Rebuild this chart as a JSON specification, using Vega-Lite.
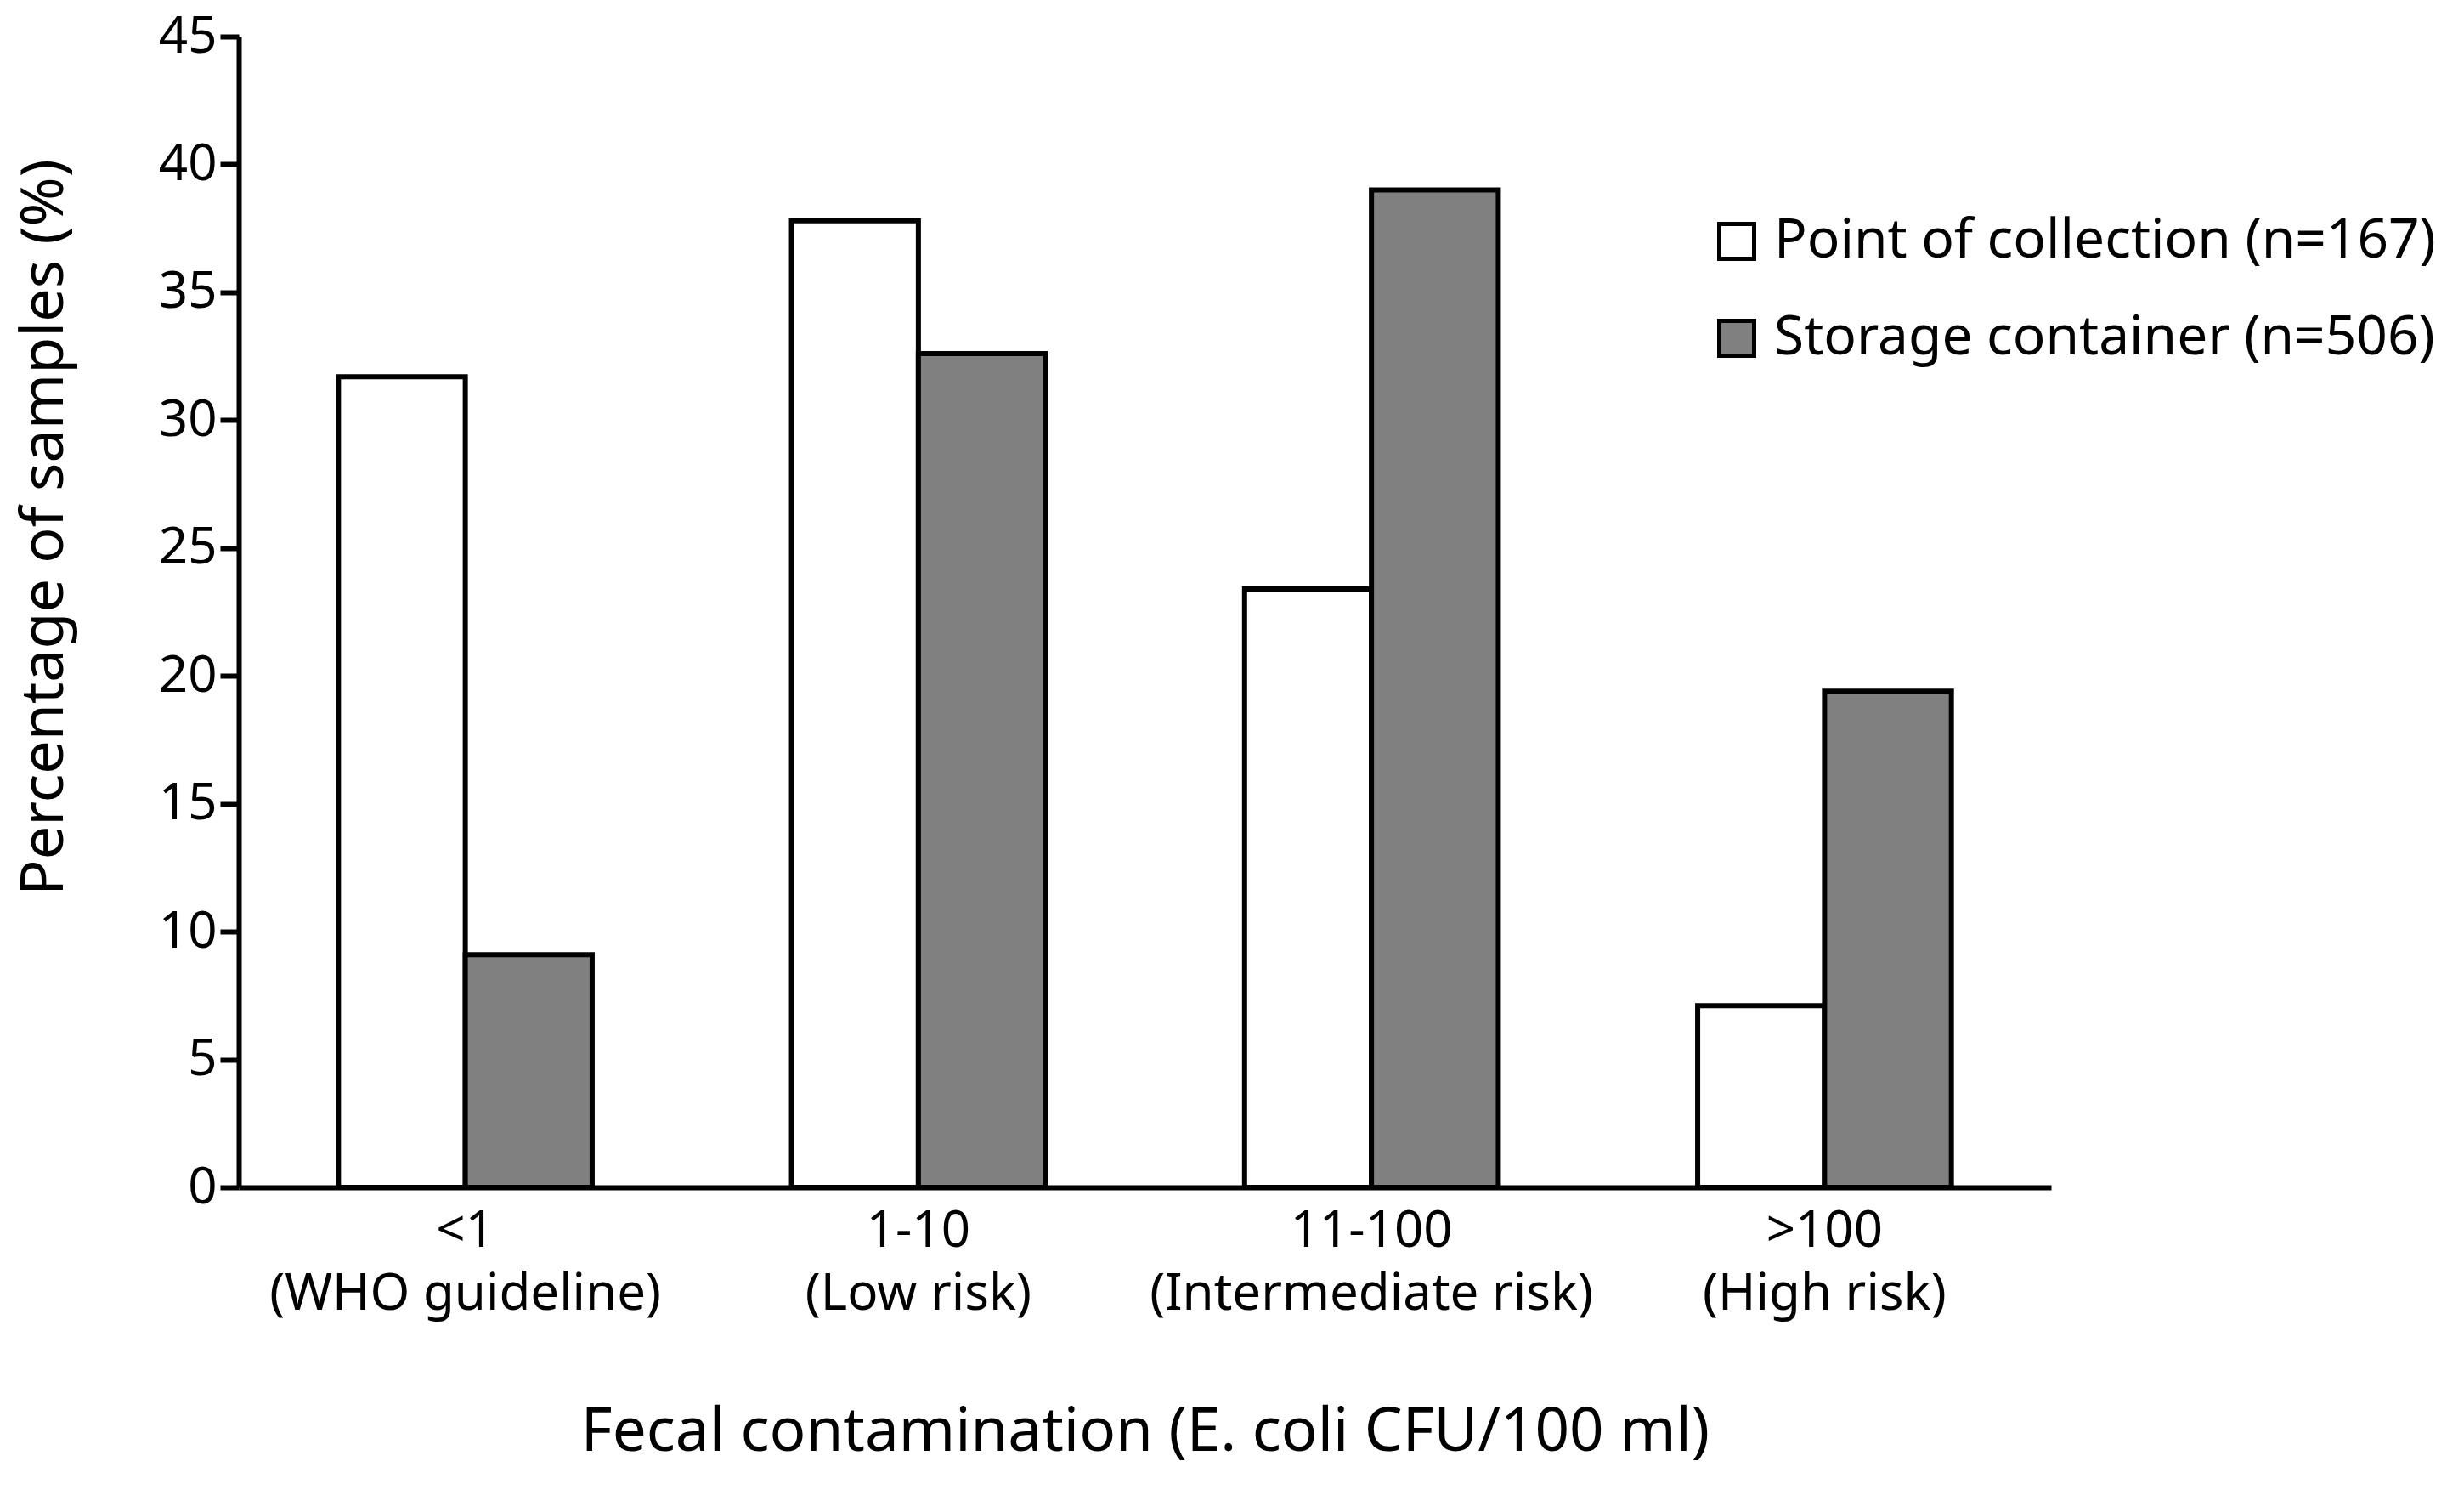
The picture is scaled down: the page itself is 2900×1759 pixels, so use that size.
{
  "$schema": "https://vega.github.io/schema/vega-lite/v6.json",
  "width": 2133,
  "height": 1354,
  "autosize": {"type": "none"},
  "padding": {"left": 281, "top": 43, "right": 486, "bottom": 362},
  "background": "white",
  "config": {"view": {"stroke": null}, "font": "Noto Sans"},
  "data": {
    "values": [
      {"category": "<1|(WHO guideline)", "series": "Point of collection (n=167)", "value": 31.7},
      {"category": "<1|(WHO guideline)", "series": "Storage container (n=506)", "value": 9.1},
      {"category": "1-10|(Low risk)", "series": "Point of collection (n=167)", "value": 37.8},
      {"category": "1-10|(Low risk)", "series": "Storage container (n=506)", "value": 32.6},
      {"category": "11-100|(Intermediate risk)", "series": "Point of collection (n=167)", "value": 23.4},
      {"category": "11-100|(Intermediate risk)", "series": "Storage container (n=506)", "value": 39.0},
      {"category": ">100|(High risk)", "series": "Point of collection (n=167)", "value": 7.1},
      {"category": ">100|(High risk)", "series": "Storage container (n=506)", "value": 19.4}
    ]
  },
  "mark": {"type": "bar", "stroke": "black", "strokeWidth": 6},
  "encoding": {
    "x": {
      "field": "category",
      "type": "nominal",
      "sort": ["<1|(WHO guideline)", "1-10|(Low risk)", "11-100|(Intermediate risk)", ">100|(High risk)"],
      "scale": {"paddingInner": 0.44, "paddingOuter": 0.22},
      "axis": {
        "title": "Fecal contamination (E. coli CFU/100 ml)",
        "titleFontSize": 71,
        "titleFontWeight": "normal",
        "titleColor": "black",
        "titlePadding": 98,
        "labelExpr": "split(datum.label, '|')",
        "labelAngle": 0,
        "labelFontSize": 60,
        "labelLineHeight": 74,
        "labelColor": "black",
        "labelPadding": 22,
        "labelLimit": 0,
        "labelOverlap": false,
        "ticks": false,
        "tickSize": 0,
        "domainColor": "black",
        "domainWidth": 6,
        "grid": false
      }
    },
    "xOffset": {"field": "series", "sort": ["Point of collection (n=167)", "Storage container (n=506)"]},
    "y": {
      "field": "value",
      "type": "quantitative",
      "scale": {"domain": [0, 45]},
      "axis": {
        "title": "Percentage of samples (%)",
        "titleFontSize": 70,
        "titleFontWeight": "normal",
        "titleColor": "black",
        "titleAngle": 270,
        "titleX": -229,
        "titleY": 577,
        "titleAlign": "center",
        "titleBaseline": "middle",
        "values": [0, 5, 10, 15, 20, 25, 30, 35, 40, 45],
        "labelFontSize": 60,
        "labelColor": "black",
        "labelPadding": 4,
        "labelFlush": false,
        "tickSize": 22,
        "tickWidth": 6,
        "tickColor": "black",
        "domainColor": "black",
        "domainWidth": 6,
        "grid": false
      }
    },
    "fill": {
      "field": "series",
      "type": "nominal",
      "scale": {"domain": ["Point of collection (n=167)", "Storage container (n=506)"], "range": ["white", "#808080"]},
      "legend": {
        "title": null,
        "orient": "none",
        "legendX": 1731,
        "legendY": 209,
        "symbolType": "square",
        "symbolSize": 1681,
        "symbolStrokeColor": "black",
        "symbolStrokeWidth": 5,
        "labelFontSize": 64,
        "labelColor": "black",
        "labelOffset": 12,
        "labelLimit": 0,
        "rowPadding": 50
      }
    }
  }
}
